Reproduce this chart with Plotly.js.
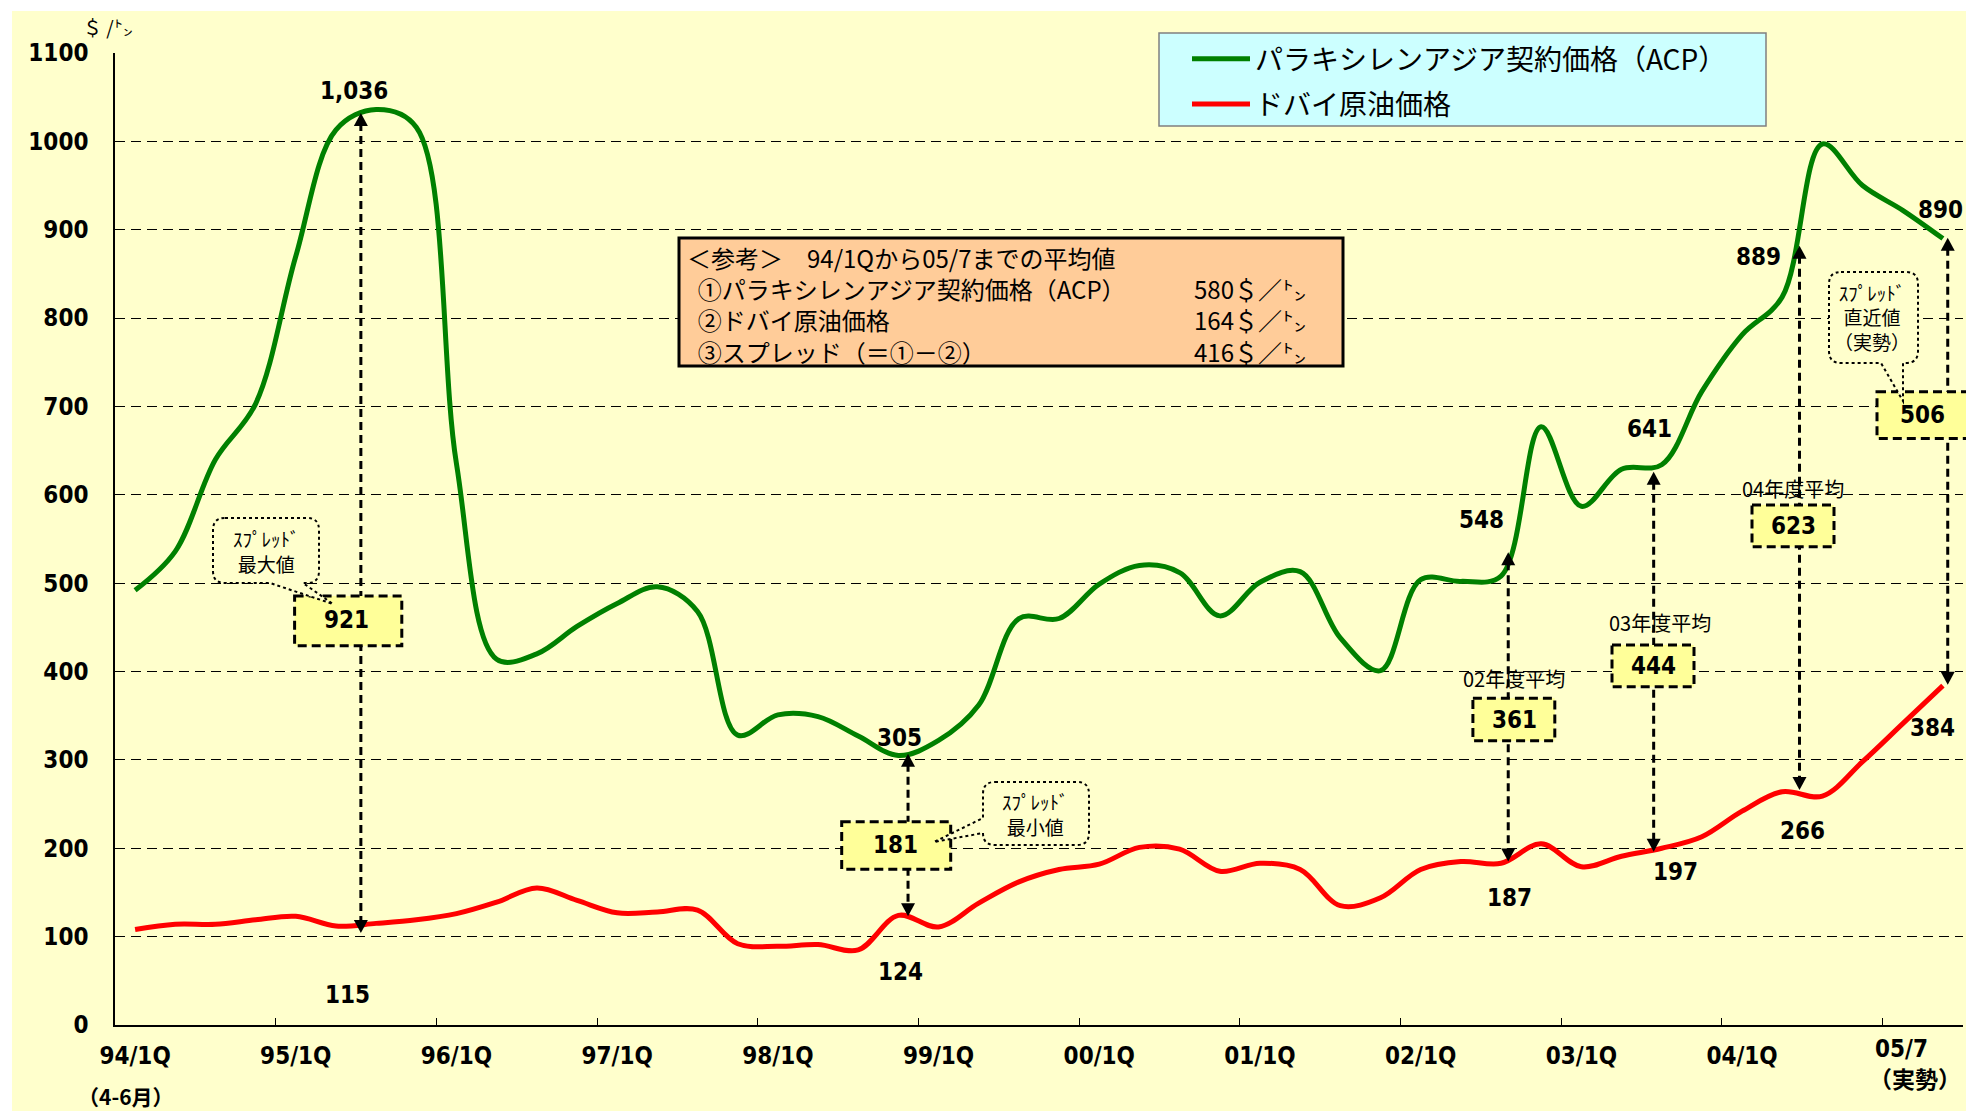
<!DOCTYPE html>
<html><head><meta charset="utf-8">
<script src="https://cdn.plot.ly/plotly-3.0.1.min.js"></script>
<style>html,body{margin:0;padding:0;background:#fff;}#chart{width:1966px;height:1114px;}</style>
</head><body><div id="chart"></div>
<script>
// ---------------- DATA ----------------
const periods = [
 '94/1Q','94/2Q','94/3Q','94/4Q','95/1Q','95/2Q','95/3Q','95/4Q',
 '96/1Q','96/2Q','96/3Q','96/4Q','97/1Q','97/2Q','97/3Q','97/4Q',
 '98/1Q','98/2Q','98/3Q','98/4Q','99/1Q','99/2Q','99/3Q','99/4Q',
 '00/1Q','00/2Q','00/3Q','00/4Q','01/1Q','01/2Q','01/3Q','01/4Q',
 '02/1Q','02/2Q','02/3Q','02/4Q','03/1Q','03/2Q','03/3Q','03/4Q',
 '04/1Q','04/2Q','04/3Q','04/4Q','05/1Q','05/7'];
// パラキシレンアジア契約価格（ACP） $/t
const acpPrice = [492,536,640,703,870,1013,1036,1016,635,414,420,451,477,496,468,328,
 351,349,327,305,322,362,460,460,499,520,512,463,501,513,438,401,
 504,502,508,677,587,629,634,717,781,824,997,950,922,890];
// ドバイ原油価格 $/t
const dubaiPrice = [108,114,114,119,123,112,115,119,126,139,155,141,127,128,130,92,
 89,91,85,124,111,138,162,176,182,201,199,174,183,176,135,144,
 176,185,183,205,179,191,200,213,242,264,259,298,341,384];
const yearTickLabels = ['94/1Q','95/1Q','96/1Q','97/1Q','98/1Q','99/1Q','00/1Q','01/1Q','02/1Q','03/1Q','04/1Q'];
const yearBoundaryTicks = [3.5,7.5,11.5,15.5,19.5,23.5,27.5,31.5,35.5,39.5,43.5];
const yTicks = [0,100,200,300,400,500,600,700,800,900,1000,1100];

// average values shown in the reference box
const refItems  = ['①パラキシレンアジア契約価格（ACP）','②ドバイ原油価格','③スプレッド（＝①－②）'];
const refValues = [580, 164, 416];

// spread call-outs: ACP label, Dubai label (spread = difference)
const noteAcp   = [1036, 305, 548, 641, 889, 890];
const noteDubai = [115, 124, 187, 197, 266, 384];
const noteTitle = ['', '', '02年度平均', '03年度平均', '04年度平均', ''];
// arrow positions (category index) and arrow tip values
const arrowIdx    = [5.62, 19.24, 34.18, 37.8, 41.43, 45.12];
const arrowTopVal = [1032, 307, 535, 626, 882, 891];
const arrowBotVal = [104, 123, 185, 196, 266, 385];

// ---------------- LAYOUT HELPERS ----------------
const WIDTH=1966, HEIGHT=1114;
const L=115, R=1963, T=53, B=1025, W=R-L, H=B-T;
const XMIN=-0.5, XMAX=45.5, YMAX=1100;
const P = (x,y)=>({x:(x-L)/W, y:(B-y)/H});
const dx = i => L + (i-XMIN)/(XMAX-XMIN)*W;
const dy = v => B - v/YMAX*H;

const JP = 'Noto Sans CJK JP, sans-serif';
const NUM = 'DejaVu Sans Condensed, Liberation Sans Narrow, Arial Narrow, sans-serif';
const numFont = {family:NUM, size:24, color:'#000', weight:'bold'};

const shapes = [];
const annotations = [];
function rectPx(x0,y0,x1,y1,opt){
  const a=P(x0,y0), b=P(x1,y1);
  shapes.push(Object.assign({type:'rect', xref:'paper', yref:'paper', x0:a.x, y0:a.y, x1:b.x, y1:b.y}, opt));
}
function pathPx(pts, opt){
  let d='';
  pts.forEach((p,k)=>{
    if(p[0]==='Q'){ const c=P(p[1],p[2]), e=P(p[3],p[4]); d+=`Q${c.x},${c.y} ${e.x},${e.y}`; }
    else { const q=P(p[0],p[1]); d+=(k===0?'M':'L')+q.x+','+q.y; }
  });
  d+='Z';
  shapes.push(Object.assign({type:'path', xref:'paper', yref:'paper', path:d}, opt));
}
function linePx(x0,y0,x1,y1,opt){
  const a=P(x0,y0), b=P(x1,y1);
  shapes.push(Object.assign({type:'line', xref:'paper', yref:'paper', x0:a.x, y0:a.y, x1:b.x, y1:b.y}, opt));
}
function text(t,x,y,font,opt){
  const p=P(x,y);
  annotations.push(Object.assign({text:t, xref:'paper', yref:'paper', x:p.x, y:p.y,
    xanchor:'center', yanchor:'middle', showarrow:false, font:font}, opt||{}));
}
function callout(x0,y0,x1,y1,r,tail){
  const pts=[[x0+r,y0],[x1-r,y0],['Q',x1,y0,x1,y0+r],[x1,y1-r],['Q',x1,y1,x1-r,y1]];
  if(tail.side==='bottom'){ pts.push([tail.b,y1],[tail.tx,tail.ty],[tail.a,y1]); }
  pts.push([x0+r,y1],['Q',x0,y1,x0,y1-r]);
  if(tail.side==='left'){ pts.push([x0,tail.b],[tail.tx,tail.ty],[x0,tail.a]); }
  pts.push([x0,y0+r],['Q',x0,y0,x0+r,y0]);
  pathPx(pts,{fillcolor:'#FFFFCC', line:{color:'#000', width:2, dash:'dot'}});
}

// background panel
rectPx(12,11,1975,1111,{layer:'below', fillcolor:'#FFFFCC', line:{width:0}});
// legend panel
rectPx(1159,33,1766,126,{fillcolor:'#CCFFFF', line:{color:'#808080', width:1.5}});
// reference box
rectPx(679,238,1343,366,{fillcolor:'#FFCC99', line:{color:'#000', width:3}});

// arrows
arrowIdx.forEach((ix,k)=>{
  const x=dx(ix), yt=dy(arrowTopVal[k]), yb=dy(arrowBotVal[k]);
  linePx(x,yt+10,x,yb-10,{line:{color:'#000', width:3, dash:'8px,5px'}});
  pathPx([[x,yt],[x-7,yt+13],[x+7,yt+13]],{fillcolor:'#000', line:{width:0}});
  pathPx([[x,yb],[x-7,yb-13],[x+7,yb-13]],{fillcolor:'#000', line:{width:0}});
});

// spread boxes
const boxPx = [[294.6,596,401.8,645.7],[841.7,821.7,950.7,869.3],[1472.9,698.3,1554.8,740.7],
               [1612,645,1694,686.7],[1752,505,1834,546.7],[1877,391.7,1985,438.5]];
const boxText = [[346,620],[895,845],[1514,719.5],[1653,666],[1793,526],[1922,415]];
boxPx.forEach((b,k)=>{
  rectPx(b[0],b[1],b[2],b[3],{fillcolor:'#FFFF99', line:{color:'#000', width:3, dash:'9px,5px'}});
  text(String(noteAcp[k]-noteDubai[k]), boxText[k][0], boxText[k][1], numFont);
});

// callouts
callout(213,518,319,583,12,{side:'bottom', a:270, b:303, tx:333, ty:604});
callout(983,782,1089,845,12,{side:'left', a:818, b:833, tx:934, ty:842});
callout(1829,272,1918,363,12,{side:'bottom', a:1881, b:1903, tx:1903, ty:401});
const smallJP = {family:JP, size:19, color:'#000'};
text('ｽﾌﾟﾚｯﾄﾞ<br>最大値',266,551,smallJP,{height:52});
text('ｽﾌﾟﾚｯﾄﾞ<br>最小値',1035,814,smallJP,{height:52});
text('ｽﾌﾟﾚｯﾄﾞ<br>直近値<br>（実勢）',1872,317,smallJP,{height:76});

// value labels
const acpLabelPx   = [[354,91],[899,738],[1481,520],[1649,429],[1758,257],[1943,210]];
const dubaiLabelPx = [[347,995],[900,972],[1509,898],[1675,872],[1802,831],[1932,728]];
noteAcp.forEach((v,k)=>{
  const t = v.toLocaleString('en-US');
  if(k===5) text(t,1965,acpLabelPx[k][1],numFont,{xanchor:'right'});
  else text(t,acpLabelPx[k][0],acpLabelPx[k][1],numFont);
});
noteDubai.forEach((v,k)=>text(String(v),dubaiLabelPx[k][0],dubaiLabelPx[k][1],numFont));
const fyPx = [null,null,[1514,678],[1660,623],[1793,488],null];
noteTitle.forEach((t,k)=>{ if(t) text(t,fyPx[k][0],fyPx[k][1],{family:JP,size:20,color:'#000'}); });

// reference box text (one block for labels, one for values)
const refFont = {family:JP, size:24, color:'#000'};
const sp = '\u00a0\u00a0';
text(['＜参考＞　94/1Qから05/7までの平均値'].concat(refItems.map(s=>sp+s)).join('<br>'),
     685,304,refFont,{xanchor:'left', align:'left'});
text(['\u00a0'].concat(refValues.map(v=>v+'＄／㌧')).join('<br>'),
     1192,304,refFont,{xanchor:'left', align:'left'});

// axis extras
text('＄ /㌧',108,27,{family:JP, size:19, color:'#000'});
text('（4-6月）',126,1096,{family:JP, size:21, color:'#000', weight:'bold'});
text('05/7',1901,1049,numFont);
text('（実勢）',1915,1078,{family:JP, size:23, color:'#000', weight:'bold'});

// ---------------- TRACES ----------------
const idx = periods.map((p,i)=>i);
const traces = [
 {x:idx, y:acpPrice, text:periods, type:'scatter', mode:'lines', name:'パラキシレンアジア契約価格（ACP）',
  legendgroup:'a', line:{color:'#008000', width:5, shape:'spline', smoothing:1},
  hovertemplate:'%{text}: %{y}<extra></extra>'},
 {x:idx, y:dubaiPrice, text:periods, type:'scatter', mode:'lines', name:'ドバイ原油価格',
  legendgroup:'b', line:{color:'#FF0000', width:5, shape:'spline', smoothing:1},
  hovertemplate:'%{text}: %{y}<extra></extra>'}
];

const layout = {
  width:WIDTH, height:HEIGHT, autosize:false,
  margin:{l:L, r:WIDTH-R, t:T, b:HEIGHT-B, pad:0},
  paper_bgcolor:'#FFFFFF', plot_bgcolor:'rgba(0,0,0,0)',
  showlegend:true,
  legend:{x:P(1187,0).x, y:P(0,34).y, xanchor:'left', yanchor:'top', bgcolor:'rgba(0,0,0,0)', borderwidth:0,
    font:{family:JP, size:28, color:'#000'}, itemwidth:58, traceorder:'grouped', tracegroupgap:6},
  xaxis:{range:[XMIN,XMAX], tickmode:'array', tickvals:yearTickLabels.map((t)=>periods.indexOf(t)), ticktext:yearTickLabels,
    ticks:'', showgrid:false, zeroline:false, showline:true, linecolor:'#000', linewidth:1.5,
    tickfont:numFont, ticklabelstandoff:8, automargin:false, fixedrange:true,
    minor:{tickmode:'array', tickvals:yearBoundaryTicks, ticks:'inside', ticklen:7, tickwidth:1, tickcolor:'#000', showgrid:false}},
  yaxis:{range:[0,YMAX], tickmode:'array', tickvals:yTicks, ticks:'', showgrid:true, gridcolor:'#000', gridwidth:1,
    griddash:'10px,6px', zeroline:false, showline:true, linecolor:'#000', linewidth:1.5,
    tickfont:numFont, ticklabelstandoff:20, automargin:false, fixedrange:true},
  shapes:shapes, annotations:annotations
};
Plotly.newPlot('chart', traces, layout, {displayModeBar:false, staticPlot:false});
</script></body></html>
